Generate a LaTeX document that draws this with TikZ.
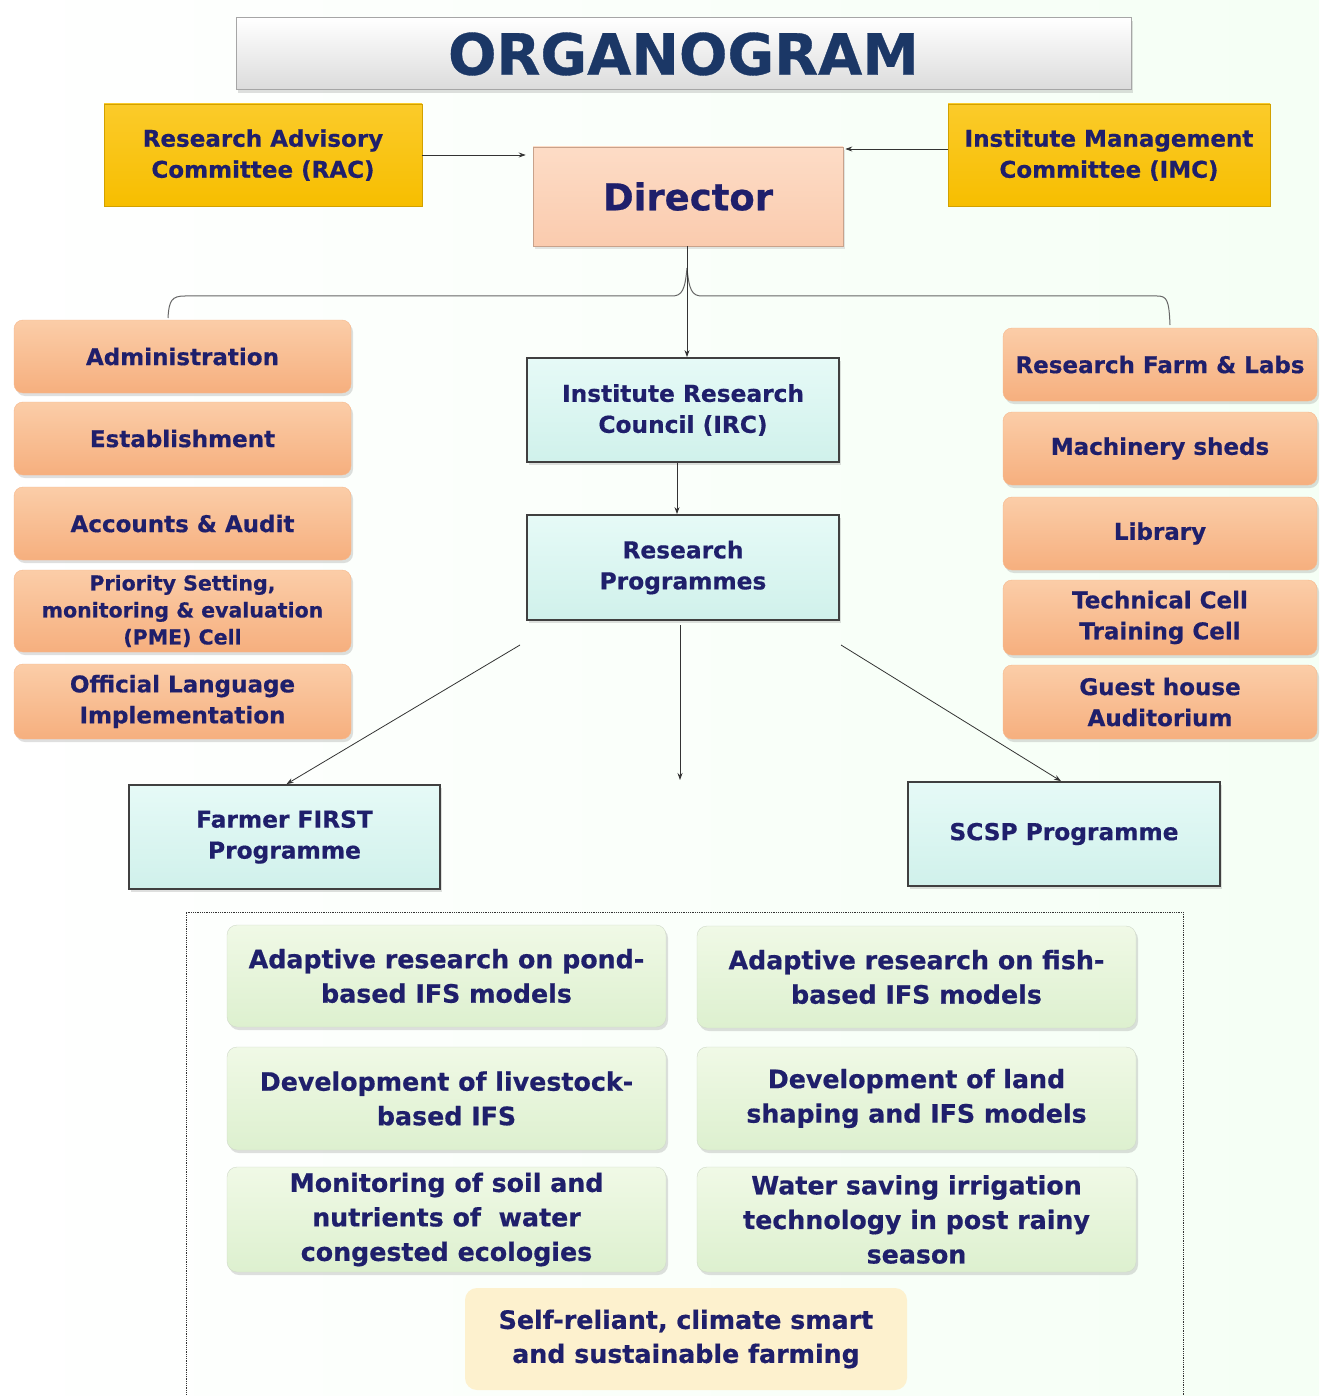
\documentclass[tikz,border=0pt]{standalone}
\usepackage{fontspec}
\setmainfont{DejaVu Sans}[BoldFeatures={FakeBold=0.6}]
\usetikzlibrary{shadows,arrows.meta}
\definecolor{navy}{HTML}{1F1F6B}
\definecolor{titleblue}{HTML}{1B3766}
\definecolor{peachT}{HTML}{FBCDA8}
\definecolor{peachB}{HTML}{F6AF7E}
\definecolor{goldT}{HTML}{FBCB2A}
\definecolor{goldB}{HTML}{F7BE00}
\definecolor{dirT}{HTML}{FDDCC6}
\definecolor{dirB}{HTML}{FACBAE}
\definecolor{cyanT}{HTML}{E6FAF7}
\definecolor{cyanB}{HTML}{D0F1EB}
\definecolor{greenT}{HTML}{F0F9E6}
\definecolor{greenB}{HTML}{DDF0CF}
\definecolor{creamF}{HTML}{FDF1CE}
\begin{document}
\begin{tikzpicture}[x=1pt,y=-1pt,
  txt/.style={text=navy,font=\bfseries,align=center,inner sep=0pt},
  titlebox/.style={txt,top color=white,bottom color=black!14,draw=black!35,line width=1pt,
    drop shadow={shadow xshift=2pt,shadow yshift=-3pt,opacity=0.25}},
  goldbox/.style={txt,top color=goldT,bottom color=goldB,draw=goldB!85!black,line width=0.6pt,
    font=\bfseries\fontsize{23}{31}\selectfont},
  dirbox/.style={txt,top color=dirT,bottom color=dirB,draw=dirB!80!black,line width=0.6pt,
    drop shadow={shadow xshift=2pt,shadow yshift=-3pt,opacity=0.2}},
  peachbox/.style={txt,rounded corners=9pt,top color=peachT,bottom color=peachB,draw=peachB!90!white,
    font=\bfseries\fontsize{23}{31}\selectfont,
    drop shadow={shadow xshift=2pt,shadow yshift=-3pt,opacity=0.25}},
  cyanbox/.style={txt,top color=cyanT,bottom color=cyanB,draw=black!75,line width=1.8pt,
    font=\bfseries\fontsize{23.3}{31}\selectfont,
    drop shadow={shadow xshift=2pt,shadow yshift=-3pt,opacity=0.25}},
  greenbox/.style={txt,rounded corners=10pt,top color=greenT,bottom color=greenB,draw=greenB!80!black!60,
    font=\bfseries\fontsize{25.3}{34.5}\selectfont,minimum width=439pt,
    drop shadow={shadow xshift=2pt,shadow yshift=-3pt,opacity=0.25}},
  conn/.style={draw=black!80,line width=0.8pt,-{Stealth[length=7pt,width=5pt]}},
]
\useasboundingbox (0,0) rectangle (1319,1396);
\shade[left color=white,right color=green!4!white] (0,0) rectangle (1319,1396);

% title
\node[titlebox,minimum width=895pt,minimum height=72pt,text=titleblue,
  font=\bfseries\fontsize{57}{57}\selectfont] (title) at (683.5,54) {ORGANOGRAM};

% committees and director
\node[goldbox,minimum width=318pt,minimum height=102pt] (rac) at (263,155) {Research Advisory\\Committee (RAC)};
\node[goldbox,minimum width=322pt,minimum height=102pt] (imc) at (1109,155) {Institute Management\\Committee (IMC)};
\node[dirbox,minimum width=310pt,minimum height=99pt,font=\bfseries\fontsize{37}{37}\selectfont] (dir) at (688,196.5) {Director};

\draw[conn] (rac.east) -- ([xshift=-7pt]dir.west |- rac.east);
\draw[conn] ([yshift=6pt]imc.west) -- ([yshift=6pt,xshift=2pt]dir.east |- imc.west);

% brace
\coordinate (bl) at (168,318);
\coordinate (br) at (1170,325);
\coordinate (bt) at (687,268);
\draw[black!60,line width=1pt] (bl) .. controls (169,300) and (172,296) .. (185,296) -- (672,296)
  .. controls (682,296) and (685,290) .. (bt) .. controls (689,290) and (692,296) .. (702,296)
  -- (1157,296) .. controls (1167,296) and (1169,300) .. (br);

% centre column
\node[cyanbox,minimum width=312pt,minimum height=104pt] (irc) at (683,410) {Institute Research\\Council (IRC)};
\node[cyanbox,minimum width=312pt,minimum height=105pt] (rp) at (683,567.5) {Research\\Programmes};
\draw[conn] ([xshift=-1pt]dir.south) -- ([xshift=-1pt]dir.south |- irc.north);
\draw[conn] ([xshift=-6pt]irc.south) -- ([xshift=-6pt]rp.north);

% left column
\node[peachbox,minimum width=337pt,minimum height=73pt] (adm) at (182.5,356.5) {Administration};
\node[peachbox,minimum width=337pt,minimum height=73pt] (est) at (182.5,438.5) {Establishment};
\node[peachbox,minimum width=337pt,minimum height=73pt] (acc) at (182.5,523.5) {Accounts \& Audit};
\node[peachbox,minimum width=337pt,minimum height=82pt,font=\bfseries\fontsize{20.5}{27}\selectfont] (pme) at (182.5,611) {Priority Setting,\\monitoring \& evaluation\\(PME) Cell};
\node[peachbox,minimum width=337pt,minimum height=75pt] (olg) at (182.5,701.5) {Official Language\\Implementation};

% right column
\node[peachbox,minimum width=314pt,minimum height=73pt] (farm) at (1160,364.5) {Research Farm \& Labs};
\node[peachbox,minimum width=314pt,minimum height=73pt] (mach) at (1160,448.5) {Machinery sheds};
\node[peachbox,minimum width=314pt,minimum height=73pt] (lib) at (1160,533.5) {Library};
\node[peachbox,minimum width=314pt,minimum height=75pt] (tech) at (1160,617.5) {Technical Cell\\Training Cell};
\node[peachbox,minimum width=314pt,minimum height=74pt] (guest) at (1160,702) {Guest house\\Auditorium};

% programmes
\node[cyanbox,minimum width=311pt,minimum height=104pt] (ff) at (284.5,837) {Farmer FIRST\\Programme};
\node[cyanbox,minimum width=312pt,minimum height=104pt] (scsp) at (1064,834) {SCSP Programme};

\coordinate (sl) at (520,645);
\coordinate (sm) at (680,625);
\coordinate (em) at (680,780);
\coordinate (sr) at (841,645);
\draw[conn] (sl) -- ([xshift=2pt]ff.north);
\draw[conn] (sm) -- (em);
\draw[conn] (sr) -- ([xshift=-3pt]scsp.north);

% dashed frame
\draw[black!80,densely dotted,line width=0.8pt] (186,1400) -- (186,912) -- (1183,912) -- (1183,1400);

% activities
\node[greenbox,minimum height=102pt] (g1) at (446.5,976) {Adaptive research on pond-\\based IFS models};
\node[greenbox,minimum height=102pt] (g2) at (916.5,977) {Adaptive research on fish-\\based IFS models};
\node[greenbox,minimum height=103pt] (g3) at (446.5,1098.5) {Development of livestock-\\based IFS};
\node[greenbox,minimum height=103pt] (g4) at (916.5,1098.5) {Development of land\\shaping and IFS models};
\node[greenbox,minimum height=105pt] (g5) at (446.5,1219.5) {Monitoring of soil and\\nutrients of\ \ water\\congested ecologies};
\node[greenbox,minimum height=105pt] (g6) at (916.5,1219.5) {Water saving irrigation\\technology in post rainy\\season};
\node[txt,rounded corners=12pt,fill=creamF,minimum width=442pt,minimum height=102pt,
  font=\bfseries\fontsize{25.3}{34}\selectfont] (goal) at (686,1339) {Self-reliant, climate smart\\and sustainable farming};
\end{tikzpicture}
\end{document}
